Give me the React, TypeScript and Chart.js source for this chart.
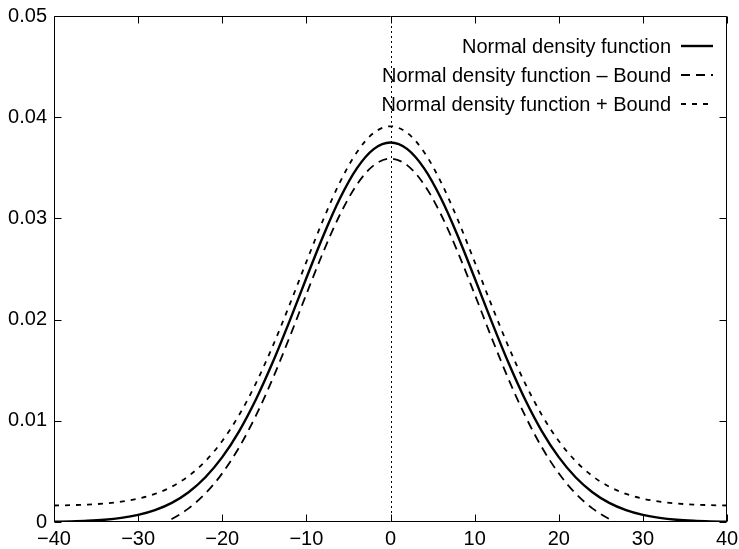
import React, { useEffect, useRef } from "react";
import { Chart, registerables } from "chart.js";

Chart.register(...registerables);

const xValues = [
  -40, -38, -36, -34, -32, -30, -28, -26, -24, -22, -20, -18, -16, -14, -12, -10, -8, -6, -4, -2,
  0, 2, 4, 6, 8, 10, 12, 14, 16, 18, 20, 22, 24, 26, 28, 30, 32, 34, 36, 38, 40,
];

const normalDensity = [
  0.000032, 0.000064, 0.000122, 0.000227, 0.000407, 0.000704, 0.001175, 0.001893, 0.002945, 0.004422,
  0.006408, 0.008964, 0.012105, 0.015778, 0.019852, 0.024111, 0.028266, 0.031987, 0.034941, 0.036843,
  0.0375,
  0.036843, 0.034941, 0.031987, 0.028266, 0.024111, 0.019852, 0.015778, 0.012105, 0.008964, 0.006408,
  0.004422, 0.002945, 0.001893, 0.001175, 0.000704, 0.000407, 0.000227, 0.000122, 0.000064, 0.000032,
];

const densityMinusBound = [
  -0.001568, -0.001536, -0.001478, -0.001373, -0.001193, -0.000896, -0.000425, 0.000293, 0.001345, 0.002822,
  0.004808, 0.007364, 0.010505, 0.014178, 0.018252, 0.022511, 0.026666, 0.030387, 0.033341, 0.035243,
  0.0359,
  0.035243, 0.033341, 0.030387, 0.026666, 0.022511, 0.018252, 0.014178, 0.010505, 0.007364, 0.004808,
  0.002822, 0.001345, 0.000293, -0.000425, -0.000896, -0.001193, -0.001373, -0.001478, -0.001536, -0.001568,
];

const densityPlusBound = [
  0.001632, 0.001664, 0.001722, 0.001827, 0.002007, 0.002304, 0.002775, 0.003493, 0.004545, 0.006022,
  0.008008, 0.010564, 0.013705, 0.017378, 0.021452, 0.025711, 0.029866, 0.033587, 0.036541, 0.038443,
  0.0391,
  0.038443, 0.036541, 0.033587, 0.029866, 0.025711, 0.021452, 0.017378, 0.013705, 0.010564, 0.008008,
  0.006022, 0.004545, 0.003493, 0.002775, 0.002304, 0.002007, 0.001827, 0.001722, 0.001664, 0.001632,
];

const seriesLabels = [
  "Normal density function",
  "Normal density function – Bound",
  "Normal density function + Bound",
];

const xTicks = [-40, -30, -20, -10, 0, 10, 20, 30, 40];
const yTicks = [0, 0.01, 0.02, 0.03, 0.04, 0.05];

const FONT = "Liberation Sans, Arial, Helvetica, sans-serif";

const framePlugin = {
  id: "gnuplotFrame",
  beforeDatasetsDraw(chart: any) {
    const { ctx, chartArea } = chart;
    const xs = chart.scales.x;
    const px = Math.round(xs.getPixelForValue(0)) + 0.5;
    ctx.save();
    ctx.strokeStyle = "#000";
    ctx.lineWidth = 1;
    ctx.setLineDash([2, 3]);
    ctx.beginPath();
    ctx.moveTo(px, chartArea.top);
    ctx.lineTo(px, chartArea.bottom);
    ctx.stroke();
    ctx.restore();
  },
  afterDatasetsDraw(chart: any) {
    const { ctx, chartArea } = chart;
    const xs = chart.scales.x;
    const ys = chart.scales.y;
    const L = chartArea.left + 0.5;
    const R = chartArea.right - 0.5;
    const T = chartArea.top + 0.5;
    const B = chartArea.bottom - 0.5;
    const tl = 7;
    ctx.save();
    ctx.strokeStyle = "#000";
    ctx.lineWidth = 1;
    ctx.setLineDash([]);
    ctx.beginPath();
    ctx.rect(L, T, R - L, B - T);
    for (const v of xTicks) {
      const p = Math.round(xs.getPixelForValue(v)) + 0.5;
      ctx.moveTo(p, B);
      ctx.lineTo(p, B - tl);
      ctx.moveTo(p, T);
      ctx.lineTo(p, T + tl);
    }
    for (const v of yTicks) {
      const p = Math.round(ys.getPixelForValue(v)) + 0.5;
      ctx.moveTo(L, p);
      ctx.lineTo(L + tl, p);
      ctx.moveTo(R, p);
      ctx.lineTo(R - tl, p);
    }
    ctx.stroke();
    ctx.restore();
  },
  afterDraw(chart: any) {
    const { ctx, chartArea } = chart;
    const textRight = chartArea.right - 56;
    const sampleL = chartArea.right - 46;
    const sampleR = chartArea.right - 14;
    const rowY0 = chartArea.top + 30;
    const rowGap = 29;
    ctx.save();
    ctx.font = `20px ${FONT}`;
    ctx.fillStyle = "#000";
    ctx.textAlign = "right";
    ctx.textBaseline = "middle";
    chart.data.datasets.forEach((ds: any, i: number) => {
      const y = rowY0 + i * rowGap;
      ctx.fillText(ds.label, textRight, y + 1);
      ctx.strokeStyle = ds.borderColor;
      ctx.lineWidth = ds.borderWidth;
      ctx.setLineDash(ds.borderDash || []);
      ctx.beginPath();
      ctx.moveTo(sampleL, y);
      ctx.lineTo(sampleR, y);
      ctx.stroke();
    });
    ctx.restore();
  },
};

export default function App() {
  const ref = useRef<HTMLCanvasElement | null>(null);

  useEffect(() => {
    if (!ref.current) return;
    const mk = (arr: number[]) => xValues.map((x, i) => ({ x, y: arr[i] }));
    const chart = new Chart(ref.current, {
      type: "line",
      data: {
        datasets: [
          {
            label: seriesLabels[0],
            data: mk(normalDensity),
            borderColor: "#000",
            borderWidth: 2.4,
            pointRadius: 0,
            cubicInterpolationMode: "monotone",
            clip: 0,
          },
          {
            label: seriesLabels[1],
            data: mk(densityMinusBound),
            borderColor: "#000",
            borderWidth: 1.8,
            borderDash: [9, 6],
            pointRadius: 0,
            cubicInterpolationMode: "monotone",
            clip: 0,
          },
          {
            label: seriesLabels[2],
            data: mk(densityPlusBound),
            borderColor: "#000",
            borderWidth: 1.8,
            borderDash: [5, 6],
            pointRadius: 0,
            cubicInterpolationMode: "monotone",
            clip: 0,
          },
        ],
      },
      options: {
        animation: false,
        responsive: false,
        devicePixelRatio: 1,
        layout: { padding: { top: 16, right: 12, left: 0, bottom: 0 } },
        plugins: { legend: { display: false }, tooltip: { enabled: false } },
        scales: {
          x: {
            type: "linear",
            min: -40,
            max: 40,
            afterBuildTicks: (scale: any) => {
              scale.ticks = xTicks.map((v) => ({ value: v }));
            },
            afterFit: (scale: any) => {
              scale.height = 27;
              scale.paddingLeft = 0;
              scale.paddingRight = 0;
            },
            grid: { display: false, drawTicks: false },
            border: { display: false },
            ticks: {
              color: "#000",
              font: { family: FONT, size: 20 },
              padding: 5,
              maxRotation: 0,
              autoSkip: false,
              callback: (v: any) => (Number(v) < 0 ? "−" + Math.abs(Number(v)) : String(v)),
            },
          },
          y: {
            type: "linear",
            min: 0,
            max: 0.05,
            afterBuildTicks: (scale: any) => {
              scale.ticks = yTicks.map((v) => ({ value: v }));
            },
            afterFit: (scale: any) => {
              scale.width = 54;
              scale.paddingTop = 0;
              scale.paddingBottom = 0;
            },
            grid: { display: false, drawTicks: false },
            border: { display: false },
            ticks: {
              color: "#000",
              font: { family: FONT, size: 20 },
              padding: 7,
              autoSkip: false,
              callback: (v: any) => (Number(v) === 0 ? "0" : Number(v).toFixed(2)),
            },
          },
        },
      },
      plugins: [framePlugin],
    } as any);
    return () => chart.destroy();
  }, []);

  return (
    <div style={{ position: "fixed", left: 0, top: 0, width: 739, height: 549, background: "#fff" }}>
      <canvas ref={ref} width={739} height={549} style={{ display: "block", width: 739, height: 549 }} />
    </div>
  );
}
